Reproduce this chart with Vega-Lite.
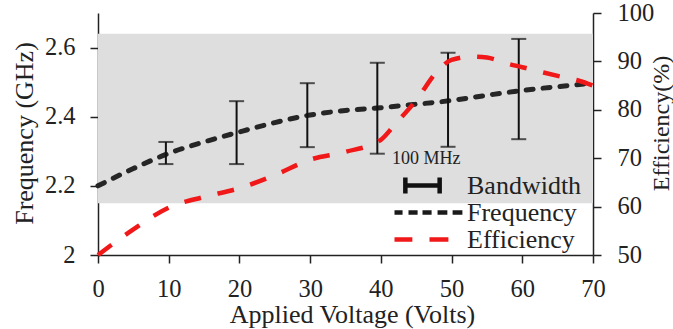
{
  "$schema": "https://vega.github.io/schema/vega-lite/v6.json",
  "width": 495,
  "height": 242,
  "autosize": {"type": "none"},
  "padding": {"left": 98, "top": 13, "right": 80, "bottom": 74},
  "background": "white",
  "config": {
    "view": {"stroke": null},
    "font": "Liberation Serif",
    "axis": {
      "grid": false,
      "domainColor": "#222222",
      "domainWidth": 1.5,
      "tickColor": "#222222",
      "tickWidth": 1.5,
      "tickSize": 8,
      "labelFont": "Liberation Serif",
      "labelFontSize": 24.5,
      "labelColor": "#222222",
      "labelFlush": false,
      "labelOverlap": false,
      "titleFont": "Liberation Serif",
      "titleFontSize": 26,
      "titleFontWeight": "normal",
      "titleColor": "#222222"
    },
    "legend": {
      "padding": 0,
      "titleFont": "Liberation Serif",
      "titleFontSize": 18,
      "titleFontWeight": "normal",
      "titleColor": "#222222",
      "titlePadding": 4,
      "labelFont": "Liberation Serif",
      "labelFontSize": 26,
      "labelColor": "#222222",
      "symbolSize": 4900,
      "symbolStrokeWidth": 4.5,
      "clipHeight": 27,
      "rowPadding": 0,
      "labelOffset": 0
    }
  },
  "datasets": {
    "band": [{"lo": 2.15, "hi": 2.64}],
    "freq": [
      {"v": 0, "f": 2.2},
      {"v": 5, "f": 2.25},
      {"v": 10, "f": 2.294},
      {"v": 15, "f": 2.327},
      {"v": 20, "f": 2.356},
      {"v": 25, "f": 2.383},
      {"v": 30, "f": 2.405},
      {"v": 35, "f": 2.418},
      {"v": 40, "f": 2.426},
      {"v": 45, "f": 2.436},
      {"v": 50, "f": 2.447},
      {"v": 55, "f": 2.462},
      {"v": 60, "f": 2.476},
      {"v": 65, "f": 2.487},
      {"v": 70, "f": 2.497}
    ],
    "bw": [
      {"v": 9.6, "lo": 2.263, "hi": 2.327},
      {"v": 19.6, "lo": 2.263, "hi": 2.445},
      {"v": 29.6, "lo": 2.312, "hi": 2.497},
      {"v": 39.5, "lo": 2.293, "hi": 2.556},
      {"v": 49.5, "lo": 2.313, "hi": 2.585},
      {"v": 59.5, "lo": 2.335, "hi": 2.625}
    ],
    "eff": [
      {"v": 0, "e": 50},
      {"v": 5, "e": 55.3},
      {"v": 10, "e": 59.8},
      {"v": 15, "e": 62},
      {"v": 20, "e": 63.8},
      {"v": 25, "e": 66.5},
      {"v": 30, "e": 69.7},
      {"v": 35, "e": 71.3},
      {"v": 40, "e": 73.8},
      {"v": 42, "e": 77},
      {"v": 45, "e": 82},
      {"v": 48, "e": 88},
      {"v": 50, "e": 90.3},
      {"v": 53, "e": 91},
      {"v": 55, "e": 90.8},
      {"v": 58, "e": 89.5},
      {"v": 60, "e": 88.8},
      {"v": 63, "e": 87.7},
      {"v": 65, "e": 87},
      {"v": 68, "e": 86},
      {"v": 70, "e": 85}
    ],
    "legend": [
      {"series": "Bandwidth"},
      {"series": "Frequency"},
      {"series": "Efficiency"}
    ]
  },
  "layer": [
    {
      "layer": [
        {
          "data": {"name": "band"},
          "mark": {"type": "rect", "color": "#dedede"},
          "encoding": {
            "y": {
              "field": "lo",
              "type": "quantitative",
              "title": "Frequency (GHz)",
              "scale": {"domain": [2, 2.7], "nice": false, "zero": false},
              "axis": {
                "title": "Frequency (GHz)",
                "values": [2, 2.2, 2.4, 2.6],
                "format": "~g",
                "labelPadding": 15,
                "titleX": -66,
                "titleY": 120,
                "titleAngle": -90,
                "titleBaseline": "alphabetic"
              }
            },
            "y2": {"field": "hi"}
          }
        },
        {
          "data": {"name": "freq"},
          "mark": {
            "type": "line",
            "color": "#262626",
            "strokeWidth": 5,
            "strokeDash": [7, 10],
            "strokeCap": "round",
            "interpolate": "monotone"
          },
          "encoding": {
            "x": {
              "field": "v",
              "type": "quantitative",
              "title": "Applied Voltage (Volts)",
              "scale": {"domain": [0, 70], "nice": false},
              "axis": {
                "title": "Applied Voltage (Volts)",
                "values": [0, 10, 20, 30, 40, 50, 60, 70],
                "labelPadding": 14,
                "titleX": 254,
                "titleY": 67,
                "titleBaseline": "alphabetic"
              }
            },
            "y": {"field": "f", "type": "quantitative", "title": "Frequency (GHz)"}
          }
        },
        {
          "data": {"name": "bw"},
          "mark": {
            "type": "errorbar",
            "color": "#111111",
            "thickness": 2,
            "ticks": {"size": 15, "thickness": 2, "color": "#111111"}
          },
          "encoding": {
            "x": {"field": "v", "type": "quantitative", "title": "Applied Voltage (Volts)"},
            "y": {"field": "lo", "type": "quantitative", "title": "Frequency (GHz)"},
            "y2": {"field": "hi"}
          }
        },
        {
          "data": {"name": "legend"},
          "mark": {"type": "point", "filled": false, "opacity": 0},
          "encoding": {
            "color": {
              "field": "series",
              "type": "nominal",
              "scale": {
                "domain": ["Bandwidth", "Frequency", "Efficiency"],
                "range": ["#111111", "#1a1a1a", "#f01818"]
              },
              "legend": {
                "title": "100 MHz",
                "orient": "none",
                "legendX": 294,
                "legendY": 137,
                "encode": {
                  "symbols": {
                    "update": {
                      "opacity": {"value": 1},
                      "strokeOpacity": {"value": 1},
                      "strokeWidth": {"signal": "datum.value === 'Bandwidth' ? 2 : (datum.value === 'Frequency' ? 5 : 4.5)"}
                    }
                  }
                }
              }
            },
            "shape": {
              "field": "series",
              "type": "nominal",
              "scale": {
                "domain": ["Bandwidth", "Frequency", "Efficiency"],
                "range": [
                  "M-0.69,0L0.29,0M-0.69,-0.23L-0.69,0.23M0.29,-0.23L0.29,0.23",
                  "M-1,0L-0.77,0M-0.6,0L-0.34,0M-0.2,0L0.06,0M0.23,0L0.51,0M0.66,0L0.94,0",
                  "M-1,0L-0.49,0M0,0L0.54,0"
                ]
              }
            }
          }
        }
      ]
    },
    {
      "data": {"name": "eff"},
      "mark": {
        "type": "line",
        "color": "#f01818",
        "strokeWidth": 4.5,
        "strokeDash": [17, 17],
        "interpolate": "monotone"
      },
      "encoding": {
        "x": {"field": "v", "type": "quantitative", "title": "Applied Voltage (Volts)"},
        "y": {
          "field": "e",
          "type": "quantitative",
          "scale": {"domain": [50, 100], "nice": false, "zero": false},
          "axis": {
            "orient": "right",
            "title": "Efficiency(%)",
            "titleFontSize": 24,
            "values": [50, 60, 70, 80, 90, 100],
            "labelPadding": 16,
            "titleX": 56,
            "titleY": 110,
            "titleAngle": -90,
            "titleBaseline": "top"
          }
        }
      }
    }
  ],
  "resolve": {"scale": {"y": "independent"}}
}
